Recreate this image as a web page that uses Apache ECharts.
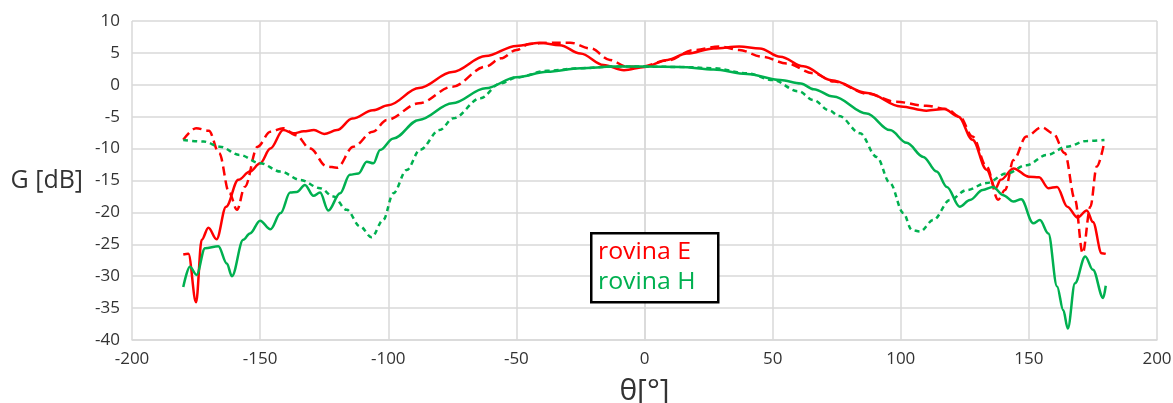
<!DOCTYPE html>
<html>
<head>
<meta charset="utf-8">
<script src="https://cdn.jsdelivr.net/npm/echarts@6/dist/echarts.min.js"></script>
<style>html,body{margin:0;padding:0;background:#fff}#c{width:1173px;height:403px}</style>
</head>
<body>
<div id="c"></div>
<script>
// theta [deg] and gain [dB] per curve
const thetaEsolid = [-180,-178,-175,-172.8,-170.2,-167,-163.3,-158.5,-154,-150,-146,-141,-137,-133,-129,-125,-120,-114,-106,-100,-88,-75,-62,-50,-41,-33,-25,-16,-8,0,9,16.5,27,37,45,53,62,73,87,100,110,117,122.5,128,133.5,137,139,144,150,154,157.6,161,165,169,172.6,175,178.4,180];
const gEsolid = [-26.6,-26.5,-34.1,-24.3,-22.4,-24.2,-19.1,-14.9,-13.6,-12.3,-10.0,-7.1,-7.6,-7.3,-7.1,-7.7,-7.1,-5.3,-4.0,-3.2,-0.5,2.0,4.5,6.1,6.6,6.2,4.9,3.1,2.3,2.8,3.9,4.9,5.7,6.0,5.7,4.4,2.9,0.7,-1.3,-3.4,-4.05,-3.8,-5.0,-8.6,-13.3,-16.2,-14.9,-13.1,-14.4,-14.5,-16.2,-16.0,-19.1,-20.8,-19.7,-21.5,-26.4,-26.5];

const thetaEdash = [-180,-175,-170,-166,-162,-159,-156,-151,-146,-141,-136,-130.5,-124,-120,-113.6,-106,-100.6,-88,-75,-62,-56,-50,-45,-37,-29,-21,-13.5,-7,-2,9,19,29.5,37,46,55.5,66,74,87,98,110,118,123,128,133.5,138,140.7,144,149,155,159.5,164,168,171,174,176.5,179.5];
const gEdash = [-8.6,-6.8,-7.2,-10.7,-17.0,-19.6,-16.0,-9.7,-7.35,-6.8,-7.9,-10.0,-12.8,-13.0,-9.7,-7.35,-5.5,-2.9,-0.3,2.85,4.15,5.45,6.4,6.6,6.6,5.7,3.9,2.85,2.8,3.8,5.45,6.0,5.45,4.4,3.35,1.8,0.5,-1.4,-2.65,-3.3,-3.8,-5.0,-8.1,-12.8,-18.0,-16.5,-11.8,-8.1,-6.65,-7.6,-10.7,-18.0,-26.4,-19.1,-12.8,-8.9];

const thetaHsolid = [-180,-177.4,-174.8,-171.5,-166.3,-163,-161,-156.6,-154,-150,-146,-142,-138.3,-135.7,-132.5,-129.2,-126.6,-123.4,-118.8,-115,-111.6,-108.4,-105.8,-103.2,-98,-88,-75,-62,-50,-38,-25,-12,0,14,27,40,53,61,66,73.7,86.7,95.8,102.3,108.8,114,118,123,127,132,136,140,144,147,151.7,154.3,157.6,161,163.4,165.2,168,172,175,179,180];
const gHsolid = [-31.7,-28.5,-29.8,-25.6,-25.3,-28,-30.0,-24.3,-23.3,-21.3,-22.65,-20.1,-16.9,-16.8,-15.7,-17.4,-16.9,-19.7,-17.0,-14.1,-13.9,-12.05,-12.3,-10.2,-8.4,-5.5,-2.9,-0.55,1.2,2.05,2.6,2.85,2.85,2.8,2.4,1.7,0.75,0.2,-0.7,-1.85,-4.5,-7.1,-9.1,-11.3,-13.6,-16.0,-19.1,-18.05,-16.5,-16.0,-17.3,-18.3,-17.95,-21.7,-21.2,-23.3,-31.6,-35.3,-38.2,-31.1,-26.9,-29.0,-33.4,-31.5];

const thetaHdash = [-180,-172,-165.7,-158,-150,-142,-134.4,-126.6,-121.4,-116.2,-111,-106.5,-102,-98,-92.8,-87.6,-80,-74.6,-64,-56.4,-50,-38,-25,-12,0,14,27,40,50,60,66,72,76,84.1,90.6,95.8,101,104.3,107.5,112.7,119.2,125.7,133.5,141.3,149,157,164.8,172.6,179.5];
const gHdash = [-8.65,-8.9,-9.7,-11.0,-12.3,-13.6,-14.9,-16.2,-17.5,-19.6,-22.2,-23.9,-21.2,-17.0,-13.35,-10.2,-7.1,-5.25,-2.1,0.2,1.15,2.2,2.6,2.85,2.85,2.8,2.6,1.8,0.75,-1.0,-2.4,-4.0,-4.9,-7.6,-11.3,-15.4,-20.1,-22.75,-23.0,-21.2,-18.05,-16.5,-15.4,-13.9,-12.6,-11.0,-9.7,-8.8,-8.65];

const legendLabels = ['rovina E', 'rovina H'];
const xName = 'θ[°]';
const yName = 'G [dB]';

const RED = '#ff0000', GREEN = '#00b050';
const zip = (a, b) => a.map((v, i) => [v, b[i]]);
const FONT = '"Open Sans", sans-serif';
const TXT = '#333333';

function line(name, xs, ys, color, dash) {
  return {
    name, type: 'line', data: zip(xs, ys), showSymbol: false, symbol: 'none',
    smooth: 0.35, smoothMonotone: 'x',
    lineStyle: { color, width: 2.5, type: dash || 'solid' },
    emphasis: { disabled: true }
  };
}

const chart = echarts.init(document.getElementById('c'), null, { renderer: 'canvas' });
chart.setOption({
  animation: false,
  grid: { left: 132, right: 16, top: 21, bottom: 63, containLabel: false, outerBoundsMode: 'none' },
  xAxis: {
    type: 'value', min: -200, max: 200, interval: 50,
    name: xName, nameLocation: 'middle', nameGap: 36,
    nameTextStyle: { fontFamily: FONT, fontSize: 30, color: TXT },
    axisLine: { onZero: false, lineStyle: { color: '#d9d9d9', width: 1.5 } },
    axisTick: { show: false },
    axisLabel: { fontFamily: FONT, fontSize: 17, color: TXT, margin: 11 },
    splitLine: { show: true, lineStyle: { color: '#d9d9d9', width: 1.5 } }
  },
  yAxis: {
    type: 'value', min: -40, max: 10, interval: 5,
    name: yName, nameLocation: 'middle', nameRotate: 0, nameGap: 49,
    nameTextStyle: { fontFamily: FONT, fontSize: 25, color: TXT, align: 'right' },
    axisLine: { show: true, lineStyle: { color: '#d9d9d9', width: 1.5 } },
    axisTick: { show: false },
    axisLabel: { fontFamily: FONT, fontSize: 17, color: TXT, margin: 12 },
    splitLine: { show: true, lineStyle: { color: '#d9d9d9', width: 1.5 } }
  },
  series: [
    line('E solid', thetaEsolid, gEsolid, RED),
    line('E dashed', thetaEdash, gEdash, RED, [9, 5]),
    line('H solid', thetaHsolid, gHsolid, GREEN),
    line('H dashed', thetaHdash, gHdash, GREEN, [5, 4])
  ],
  graphic: [
    { type: 'rect', left: 590, top: 232, shape: { width: 127, height: 69 },
      style: { fill: '#fff', stroke: '#000', lineWidth: 2.5 }, z: 100 },
    { type: 'text', x: 598, y: 252, scaleX: 1.08, z: 101,
      style: { text: legendLabels[0], fill: RED, font: '23px ' + FONT, textVerticalAlign: 'middle' } },
    { type: 'text', x: 598, y: 282, scaleX: 1.08, z: 101,
      style: { text: legendLabels[1], fill: GREEN, font: '23px ' + FONT, textVerticalAlign: 'middle' } }
  ]
});
</script>
</body>
</html>
